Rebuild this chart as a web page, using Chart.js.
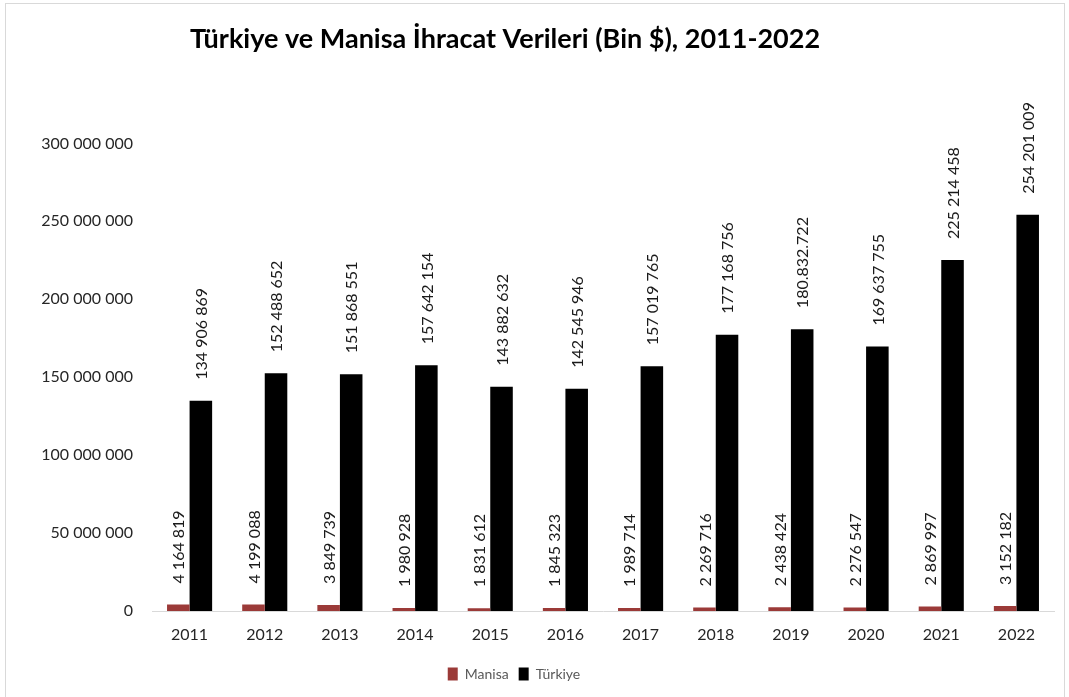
<!DOCTYPE html>
<html>
<head>
<meta charset="utf-8">
<script src="https://cdn.jsdelivr.net/npm/chart.js@4.4.0/dist/chart.umd.min.js"></script>
<style>
  html, body { margin: 0; padding: 0; background: #fff; }
  #wrap { position: relative; width: 1069px; height: 697px; overflow: hidden; }
  #frame { position: absolute; left: 5px; top: 3px; width: 1060px; height: 720px; border: 1px solid #d9d9d9; box-sizing: border-box; pointer-events: none; }
  canvas { position: absolute; left: 0; top: 0; }
</style>
</head>
<body>
<div id="wrap">
  <canvas id="c" width="1069" height="697"></canvas>
  <div id="frame"></div>
</div>
<script>
const years = ['2011','2012','2013','2014','2015','2016','2017','2018','2019','2020','2021','2022'];
const manisa = [4164819, 4199088, 3849739, 1980928, 1831612, 1845323, 1989714, 2269716, 2438424, 2276547, 2869997, 3152182];
const turkiye = [134906869, 152488652, 151868551, 157642154, 143882632, 142545946, 157019765, 177168756, 180832722, 169637755, 225214458, 254201009];
const manisaLabels = ['4 164 819','4 199 088','3 849 739','1 980 928','1 831 612','1 845 323','1 989 714','2 269 716','2 438 424','2 276 547','2 869 997','3 152 182'];
const turkiyeLabels = ['134 906 869','152 488 652','151 868 551','157 642 154','143 882 632','142 545 946','157 019 765','177 168 756','180.832.722','169 637 755','225 214 458','254 201 009'];
const yTicks = [0, 50000000, 100000000, 150000000, 200000000, 250000000, 300000000];
const titleText = 'Türkiye ve Manisa İhracat Verileri (Bin $), 2011-2022';

const FONT = 'Lato, "Open Sans", sans-serif';

function fmt(v) {
  return String(v).replace(/\B(?=(\d{3})+(?!\d))/g, ' ');
}

const labelPlugin = {
  id: 'barLabels',
  afterDatasetsDraw(chart) {
    const ctx = chart.ctx;
    const sets = [manisaLabels, turkiyeLabels];
    chart.data.datasets.forEach((ds, di) => {
      const meta = chart.getDatasetMeta(di);
      meta.data.forEach((bar, i) => {
        ctx.save();
        ctx.translate(bar.x, bar.y - 21);
        ctx.rotate(-Math.PI / 2);
        ctx.font = '16px ' + FONT;
        ctx.fillStyle = '#1a1a1a';
        ctx.textAlign = 'left';
        ctx.textBaseline = 'middle';
        ctx.fillText(sets[di][i], 0, 1);
        ctx.restore();
      });
    });
  }
};

const shiftPlugin = {
  id: 'shiftBoxes',
  afterLayout(chart) {
    if (chart.titleBlock) { chart.titleBlock.left -= 44; }
    if (chart.legend) { chart.legend.left -= 13; chart.legend.right -= 13; }
  }
};

new Chart(document.getElementById('c'), {
  type: 'bar',
  data: {
    labels: years,
    datasets: [
      { label: 'Manisa', data: manisa, backgroundColor: '#9B3A38', borderWidth: 0 },
      { label: 'Türkiye', data: turkiye, backgroundColor: '#000000', borderWidth: 0 }
    ]
  },
  options: {
    responsive: false,
    animation: false,
    devicePixelRatio: 1,
    layout: { padding: { left: 0, right: 15, top: 0, bottom: 6 } },
    datasets: { bar: { categoryPercentage: 0.6, barPercentage: 1.0 } },
    plugins: {
      title: {
        display: true,
        text: titleText,
        color: '#000',
        font: { family: FONT, size: 27, weight: 'bold' },
        padding: { top: 23, bottom: 88 }
      },
      legend: {
        display: true,
        position: 'bottom',
        labels: {
          boxWidth: 10, boxHeight: 13,
          color: '#595959',
          font: { family: FONT, size: 14 },
          padding: 10
        }
      },
      tooltip: { enabled: false }
    },
    scales: {
      x: {
        grid: { display: false, drawTicks: false },
        border: { display: true, color: '#d9d9d9', width: 1 },
        ticks: { color: '#262626', font: { family: FONT, size: 16 }, padding: 14 },
        afterFit(s) { s.height = 46; }
      },
      y: {
        min: 0, max: 300000000,
        grid: { display: false, drawTicks: false },
        border: { display: false },
        afterBuildTicks(s) { s.ticks = yTicks.map(v => ({ value: v })); },
        ticks: { color: '#262626', font: { family: FONT, size: 16 }, padding: 19, callback: v => fmt(v) },
        afterFit(s) { s.width = 152; }
      }
    }
  },
  plugins: [labelPlugin, shiftPlugin]
});
</script>
</body>
</html>
